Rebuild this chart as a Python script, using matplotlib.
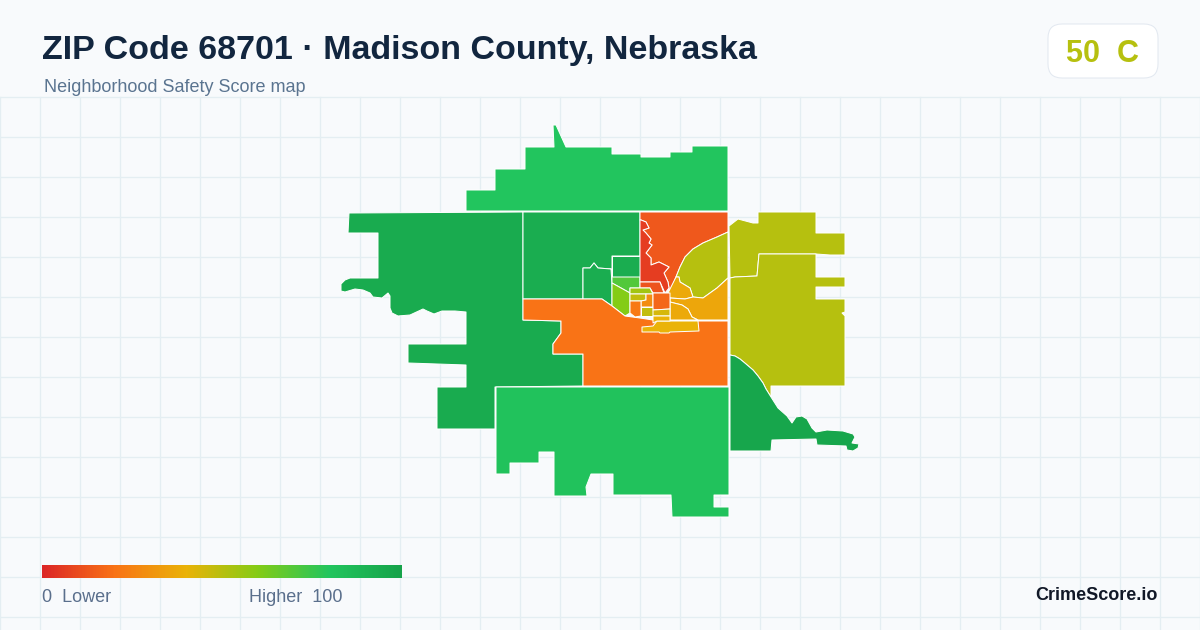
import numpy as np
import matplotlib
matplotlib.use('Agg')
import matplotlib.pyplot as plt
from matplotlib.colors import LinearSegmentedColormap
from matplotlib.patches import FancyBboxPatch, Polygon

title = 'ZIP Code 68701 \u00b7 Madison County, Nebraska'
subtitle = 'Neighborhood Safety Score map'
overall_score = 50
overall_grade = 'C'
brand = 'CrimeScore.io'

scale_colors = ['#dc2626', '#f97316', '#eab308', '#84cc16', '#22c55e', '#16a34a']

# Shared borders between tracts (map units are reference pixels)
river = [(641, 220), (646, 222), (649, 228), (643, 230), (646, 233), (651, 239),
         (649, 243), (652, 245), (646, 253), (651, 258), (651, 265), (659, 262),
         (669, 267), (664, 273), (668, 282), (669, 288)]
ne_curve = [(728, 232), (717, 237), (703, 243), (693, 249), (685, 257), (680, 267),
            (676, 277)]
se_curve = [(730, 355), (735, 356), (740, 359), (746, 364), (753, 370), (758, 376),
            (763, 383), (766, 389), (771, 397)]

# Tract outlines
north = [(466, 211), (466, 190), (495, 190), (495, 169), (525, 169), (525, 147),
         (554, 147), (553, 125), (556, 125), (566, 147), (612, 147), (612, 154),
         (641, 154), (641, 157), (670, 157), (670, 152), (692, 152), (692, 146),
         (728, 146), (728, 211)]
northwest = [(349, 213), (348, 233), (378, 233), (378, 278), (350, 278), (345, 280),
             (341, 284), (341, 291), (345, 292), (355, 289), (363, 290), (370, 293),
             (373, 297), (382, 298), (388, 293), (390, 296), (390, 308), (392, 313),
             (398, 316), (410, 315), (423, 309), (427, 311), (434, 314), (442, 311),
             (455, 311), (466, 312), (466, 344), (408, 344), (408, 363), (437, 364),
             (466, 365), (466, 387), (437, 387), (437, 429), (495, 429), (495, 387),
             (583, 386), (583, 354), (553, 354), (553, 344), (561, 333), (561, 321),
             (523, 320), (523, 212)]
north_center = [(523, 212), (640, 212), (640, 256), (612, 256), (612, 269), (598, 268),
                (594, 263), (590, 268), (583, 268), (583, 299), (523, 299)]
west_pocket = [(583, 299), (583, 268), (590, 268), (594, 263), (598, 268), (611, 269),
               (612, 283), (612, 306), (602, 299)]
upper_block = [(612, 256), (640, 256), (640, 277), (612, 277)]
bright_block = [(612, 277), (640, 277), (640, 288), (630, 288), (630, 293), (612, 283)]
lime_block = [(612, 283), (630, 293), (630, 313), (625, 316), (612, 306)]
northeast = [(640, 212), (728, 212)] + ne_curve + [(670, 292)] + river[::-1] + [(640, 220)]
river_strip = [(640, 220)] + river + [(665, 293), (660, 282), (640, 282)]
river_foot = [(640, 282), (660, 282), (664, 293), (653, 293), (650, 288), (640, 288)]
east_olive = ne_curve + [(679, 277), (680, 282), (690, 288), (693, 297), (703, 298),
                         (717, 288), (728, 278)]
amber_small = [(676, 277), (679, 277), (680, 282), (690, 288), (693, 297), (685, 299),
               (670, 298), (668, 293)]
amber_east = [(728, 278), (717, 288), (703, 298), (693, 297), (685, 299), (670, 298),
              (670, 302), (682, 305), (688, 309), (692, 317), (698, 320), (728, 320)]
amber_center = [(670, 302), (682, 305), (688, 309), (692, 317), (698, 320), (670, 320)]
amber_band = [(642, 327), (653, 326), (657, 321), (698, 321), (699, 331), (670, 332),
              (669, 333), (660, 333), (659, 332), (642, 332)]
block_a = [(630, 288), (650, 288), (653, 294), (630, 294)]
block_b = [(630, 294), (646, 294), (646, 300), (641, 301), (630, 301)]
block_c = [(646, 294), (653, 294), (653, 307), (641, 307), (641, 301), (646, 300)]
block_d = [(630, 301), (641, 301), (641, 316), (635, 317), (630, 313)]
block_e = [(641, 307), (653, 307), (653, 316), (641, 316)]
block_f = [(653, 293), (670, 293), (670, 309), (653, 310)]
block_g = [(653, 310), (670, 309), (670, 316), (653, 316)]
block_h = [(653, 316), (670, 316), (670, 321), (657, 321), (653, 323)]
south_center = [(523, 299), (602, 299), (612, 306), (625, 316), (640, 318), (653, 320),
                (698, 321), (728, 321), (728, 386), (583, 386), (583, 354), (553, 354),
                (553, 344), (561, 333), (561, 321), (523, 320)]
far_east_upper = [(729, 226), (738, 219), (753, 223), (758, 223), (758, 212), (816, 212),
                  (816, 233), (845, 233), (845, 255), (830, 255), (816, 254), (759, 254),
                  (757, 276), (735, 277), (730, 278)]
far_east_lower = [(730, 278), (735, 277), (757, 276), (759, 254), (816, 254), (816, 277),
                  (845, 277), (845, 287), (816, 287), (816, 299), (845, 299), (845, 312),
                  (842, 313), (845, 316), (845, 386), (820, 386), (771, 386)] + se_curve[::-1]
southeast = se_curve + [(778, 408), (787, 416), (792, 423), (796, 417), (802, 416),
                        (807, 419), (812, 428), (816, 432), (827, 430), (843, 431),
                        (853, 434), (855, 437), (852, 443), (859, 444), (858, 448),
                        (853, 451), (847, 450), (846, 446), (817, 445), (816, 439),
                        (772, 440), (771, 451), (730, 451)]
south = [(496, 387), (729, 387), (729, 495), (714, 495), (714, 507), (729, 507),
         (729, 517), (672, 517), (671, 495), (613, 495), (613, 474), (591, 474),
         (586, 487), (587, 496), (554, 496), (554, 452), (539, 452), (539, 463),
         (510, 463), (510, 474), (496, 474)]

# Tract and its score, drawn in this order
tracts = [north, northwest, north_center, west_pocket, upper_block, bright_block,
          lime_block, south_center, northeast, river_strip, river_foot, east_olive,
          amber_small, amber_east, amber_center, amber_band, block_a, block_b,
          block_c, block_d, block_e, block_f, block_g, block_h, far_east_upper,
          far_east_lower, southeast, south]
scores = [80, 95, 94, 94, 94, 70, 60, 20, 13, 6, 12, 50, 37, 36, 37, 40, 54, 48,
          28, 22, 48, 17, 44, 40, 50, 50, 98, 82]

cmap = LinearSegmentedColormap.from_list('safety', scale_colors)

plt.rcParams['font.family'] = ['Liberation Sans', 'DejaVu Sans']

fig = plt.figure(figsize=(12, 6.3), dpi=100, facecolor='#f8fafc')
ax = fig.add_axes([0, 0, 1, 1])
ax.set_axis_off()

# Background grid, only below the header
for x in range(0, 1201, 40):
    ax.plot([x, x], [97, 630], color='#e4eef2', lw=0.95, zorder=1)
for y in range(97, 630, 40):
    ax.plot([0, 1200], [y, y], color='#e4eef2', lw=0.95, zorder=1)

for outline, score in zip(tracts, scores):
    ax.add_patch(Polygon(outline, closed=True, facecolor=cmap(score / 100),
                         edgecolor='white', lw=0.72, joinstyle='round', zorder=2))

# Legend bar
gradient = np.linspace(0, 1, 360).reshape(1, -1)
ax.imshow(gradient, cmap=cmap, extent=(42, 402, 578, 565), aspect='auto', zorder=3)
ax.text(42, 598, '0  Lower', fontsize=12.96, color='#5a6f8c', va='center', ha='left')
ax.text(249, 598, 'Higher  100', fontsize=12.96, color='#5a6f8c', va='center', ha='left')

# Header
ax.text(42, 51, title, fontsize=24.48, fontweight='bold', color='#12263f',
        va='center', ha='left')
ax.text(44, 87, subtitle, fontsize=12.96, color='#5a7490', va='center', ha='left')

# Grade badge
ax.add_patch(FancyBboxPatch((1062, 38), 82, 26, boxstyle='round,pad=14,rounding_size=14',
                            facecolor='white', edgecolor='#e2e8f0', lw=0.72, zorder=3))
ax.text(1103, 54, '%d  %s' % (overall_score, overall_grade), fontsize=22,
        fontweight='bold', color=cmap(overall_score / 100), va='center', ha='center',
        zorder=4)

ax.text(1158, 595, brand, fontsize=13, fontweight='bold', color='#111827',
        va='center', ha='right')

ax.set_xlim(0, 1200)
ax.set_ylim(630, 0)

fig.savefig('out.png', dpi=100, facecolor=fig.get_facecolor())
